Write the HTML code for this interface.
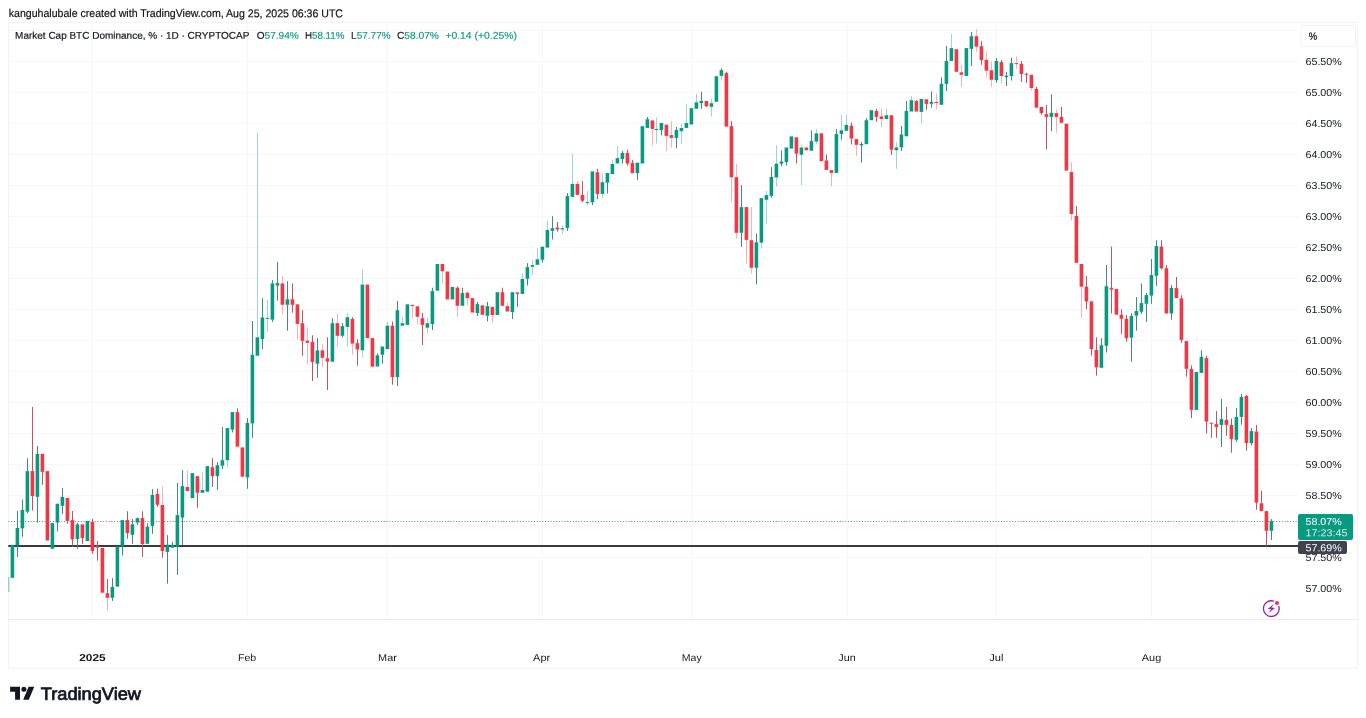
<!DOCTYPE html>
<html><head><meta charset="utf-8"><title>chart</title>
<style>
html,body{margin:0;padding:0;background:#fff;}
body{width:1366px;height:718px;position:relative;overflow:hidden;font-family:"Liberation Sans",sans-serif;color:#131722;}
.t{position:absolute;white-space:nowrap;line-height:1;transform-origin:0 0;}
#tx{position:absolute;left:0;top:0;width:1366px;height:718px;will-change:transform;}
svg{position:absolute;left:0;top:0;}
</style></head><body>
<svg width="1366" height="718" viewBox="0 0 1366 718">
<g stroke="#f6f6f8" stroke-width="1" fill="none">
<line x1="8.5" x2="1298" y1="557.4" y2="557.4"/>
<line x1="8.5" x2="1298" y1="526.4" y2="526.4"/>
<line x1="8.5" x2="1298" y1="495.4" y2="495.4"/>
<line x1="8.5" x2="1298" y1="464.4" y2="464.4"/>
<line x1="8.5" x2="1298" y1="433.4" y2="433.4"/>
<line x1="8.5" x2="1298" y1="402.4" y2="402.4"/>
<line x1="8.5" x2="1298" y1="371.4" y2="371.4"/>
<line x1="8.5" x2="1298" y1="340.4" y2="340.4"/>
<line x1="8.5" x2="1298" y1="309.4" y2="309.4"/>
<line x1="8.5" x2="1298" y1="278.4" y2="278.4"/>
<line x1="8.5" x2="1298" y1="247.4" y2="247.4"/>
<line x1="8.5" x2="1298" y1="216.4" y2="216.4"/>
<line x1="8.5" x2="1298" y1="185.4" y2="185.4"/>
<line x1="8.5" x2="1298" y1="154.4" y2="154.4"/>
<line x1="8.5" x2="1298" y1="123.4" y2="123.4"/>
<line x1="8.5" x2="1298" y1="92.4" y2="92.4"/>
<line x1="8.5" x2="1298" y1="61.4" y2="61.4"/>
<line x1="8.5" x2="1298" y1="30.4" y2="30.4"/>
<line x1="92.5" x2="92.5" y1="22.5" y2="619.3"/>
<line x1="247.3" x2="247.3" y1="22.5" y2="619.3"/>
<line x1="387.3" x2="387.3" y1="22.5" y2="619.3"/>
<line x1="542.4" x2="542.4" y1="22.5" y2="619.3"/>
<line x1="691.8" x2="691.8" y1="22.5" y2="619.3"/>
<line x1="847.3" x2="847.3" y1="22.5" y2="619.3"/>
<line x1="996.6" x2="996.6" y1="22.5" y2="619.3"/>
<line x1="1151.5" x2="1151.5" y1="22.5" y2="619.3"/>
</g>
<g stroke="#f2f2f3" stroke-width="1" fill="none">
<rect x="8.5" y="22.4" width="1349.1" height="645.8"/>
<line x1="8.3" x2="1357.6" y1="619.5" y2="619.5" stroke="#ececee"/>
</g>
<line x1="8.5" x2="1298" y1="521.5" y2="521.5" stroke="#2f7a6c" stroke-width="1.1" stroke-dasharray="1 1.78" opacity="0.85"/>
<rect x="8.3" y="545.0" width="1290" height="2.0" fill="#363a45"/>
<g shape-rendering="auto">
<rect x="8.3" y="577" width="1.1" height="15" fill="#089981" opacity="0.55"/>
<rect x="10.60" y="544.8" width="3.6" height="33.0" fill="#089981"/>
<rect x="17.00" y="511.2" width="1" height="17.0" fill="#3f8c7e"/><rect x="17.00" y="545.0" width="1" height="11.9" fill="#3f8c7e"/><rect x="15.60" y="528.0" width="3.6" height="17.2" fill="#089981"/>
<rect x="22.00" y="499.5" width="1" height="10.7" fill="#3f8c7e"/><rect x="22.00" y="528.2" width="1" height="8.6" fill="#3f8c7e"/><rect x="20.60" y="510.0" width="3.6" height="18.4" fill="#089981"/>
<rect x="27.00" y="458.2" width="1" height="13.1" fill="#3f8c7e"/><rect x="27.00" y="511.5" width="1" height="1.9" fill="#3f8c7e"/><rect x="25.60" y="471.1" width="3.6" height="40.6" fill="#089981"/>
<rect x="32.00" y="407.0" width="1" height="64.3" fill="#bb5560"/><rect x="32.00" y="495.9" width="1" height="14.7" fill="#bb5560"/><rect x="30.60" y="471.1" width="3.6" height="25.0" fill="#f23645"/>
<rect x="37.00" y="446.0" width="1" height="8.1" fill="#3f8c7e"/><rect x="37.00" y="496.6" width="1" height="26.0" fill="#3f8c7e"/><rect x="35.60" y="453.9" width="3.6" height="42.9" fill="#089981"/>
<rect x="42.00" y="471.7" width="1" height="13.1" fill="#bb5560"/><rect x="40.60" y="453.9" width="3.6" height="18.0" fill="#f23645"/>
<rect x="45.60" y="471.1" width="3.6" height="69.4" fill="#f23645"/>
<rect x="50.60" y="523.1" width="3.6" height="25.7" fill="#089981"/>
<rect x="57.00" y="522.4" width="1" height="9.1" fill="#3f8c7e"/><rect x="55.60" y="503.7" width="3.6" height="18.9" fill="#089981"/>
<rect x="62.00" y="488.1" width="1" height="9.1" fill="#3f8c7e"/><rect x="62.00" y="505.6" width="1" height="8.6" fill="#3f8c7e"/><rect x="60.60" y="497.0" width="3.6" height="8.8" fill="#089981"/>
<rect x="67.00" y="520.7" width="1" height="3.1" fill="#bb5560"/><rect x="65.60" y="498.0" width="3.6" height="22.9" fill="#f23645"/>
<rect x="72.00" y="511.0" width="1" height="9.3" fill="#bb5560"/><rect x="72.00" y="539.1" width="1" height="7.4" fill="#bb5560"/><rect x="70.60" y="520.1" width="3.6" height="19.2" fill="#f23645"/>
<rect x="77.00" y="522.6" width="1" height="1.9" fill="#3f8c7e"/><rect x="77.00" y="538.8" width="1" height="10.0" fill="#3f8c7e"/><rect x="75.60" y="524.3" width="3.6" height="14.7" fill="#089981"/>
<rect x="82.00" y="537.9" width="1" height="5.9" fill="#bb5560"/><rect x="80.60" y="524.3" width="3.6" height="13.8" fill="#f23645"/>
<rect x="85.60" y="520.9" width="3.6" height="20.1" fill="#089981"/>
<rect x="92.00" y="518.9" width="1" height="3.1" fill="#bb5560"/><rect x="92.00" y="550.8" width="1" height="3.1" fill="#bb5560"/><rect x="90.60" y="521.8" width="3.6" height="29.2" fill="#f23645"/>
<rect x="97.00" y="541.0" width="1" height="4.9" fill="#bb5560"/><rect x="97.00" y="547.5" width="1" height="13.2" fill="#bb5560"/><rect x="95.60" y="545.7" width="3.6" height="2.0" fill="#f23645"/>
<rect x="100.60" y="548.0" width="3.6" height="44.7" fill="#f23645"/>
<rect x="107.00" y="579.1" width="1" height="14.3" fill="#bb5560"/><rect x="107.00" y="597.6" width="1" height="13.1" fill="#f23645" opacity="0.4"/><rect x="105.60" y="593.2" width="3.6" height="4.6" fill="#f23645"/>
<rect x="112.00" y="578.1" width="1" height="9.1" fill="#3f8c7e"/><rect x="112.00" y="597.6" width="1" height="3.3" fill="#3f8c7e"/><rect x="110.60" y="587.0" width="3.6" height="10.8" fill="#089981"/>
<rect x="115.60" y="546.3" width="3.6" height="40.3" fill="#089981"/>
<rect x="122.00" y="546.1" width="1" height="9.4" fill="#3f8c7e"/><rect x="120.60" y="520.1" width="3.6" height="26.2" fill="#089981"/>
<rect x="127.00" y="511.2" width="1" height="9.1" fill="#bb5560"/><rect x="127.00" y="532.9" width="1" height="5.9" fill="#bb5560"/><rect x="125.60" y="520.1" width="3.6" height="13.0" fill="#f23645"/>
<rect x="132.00" y="518.9" width="1" height="5.6" fill="#3f8c7e"/><rect x="132.00" y="534.6" width="1" height="9.2" fill="#3f8c7e"/><rect x="130.60" y="524.3" width="3.6" height="10.5" fill="#089981"/>
<rect x="137.00" y="517.6" width="1" height="0.7" fill="#3f8c7e"/><rect x="137.00" y="522.4" width="1" height="2.7" fill="#3f8c7e"/><rect x="135.60" y="518.1" width="3.6" height="4.5" fill="#089981"/>
<rect x="142.00" y="511.2" width="1" height="7.1" fill="#bb5560"/><rect x="142.00" y="543.8" width="1" height="13.1" fill="#bb5560"/><rect x="140.60" y="518.1" width="3.6" height="25.9" fill="#f23645"/>
<rect x="147.00" y="523.1" width="1" height="3.9" fill="#3f8c7e"/><rect x="145.60" y="526.8" width="3.6" height="17.0" fill="#089981"/>
<rect x="152.00" y="489.1" width="1" height="6.1" fill="#3f8c7e"/><rect x="152.00" y="525.7" width="1" height="8.1" fill="#3f8c7e"/><rect x="150.60" y="495.0" width="3.6" height="30.9" fill="#089981"/>
<rect x="157.00" y="488.6" width="1" height="5.6" fill="#bb5560"/><rect x="157.00" y="504.6" width="1" height="2.1" fill="#bb5560"/><rect x="155.60" y="494.0" width="3.6" height="10.8" fill="#f23645"/>
<rect x="162.00" y="486.1" width="1" height="19.1" fill="#f23645" opacity="0.4"/><rect x="162.00" y="550.8" width="1" height="6.9" fill="#bb5560"/><rect x="160.60" y="505.0" width="3.6" height="46.0" fill="#f23645"/>
<rect x="167.00" y="535.1" width="1" height="9.8" fill="#3f8c7e"/><rect x="167.00" y="551.7" width="1" height="31.9" fill="#3f8c7e"/><rect x="165.60" y="544.7" width="3.6" height="7.2" fill="#089981"/>
<rect x="172.00" y="541.8" width="1" height="3.1" fill="#3f8c7e"/><rect x="170.60" y="544.7" width="3.6" height="3.0" fill="#089981"/>
<rect x="177.00" y="483.1" width="1" height="32.2" fill="#3f8c7e"/><rect x="177.00" y="546.3" width="1" height="28.6" fill="#3f8c7e"/><rect x="175.60" y="515.1" width="3.6" height="31.4" fill="#089981"/>
<rect x="182.00" y="470.3" width="1" height="16.0" fill="#3f8c7e"/><rect x="182.00" y="517.4" width="1" height="27.8" fill="#3f8c7e"/><rect x="180.60" y="486.1" width="3.6" height="31.5" fill="#089981"/>
<rect x="187.00" y="470.3" width="1" height="16.9" fill="#f23645" opacity="0.4"/><rect x="185.60" y="487.0" width="3.6" height="4.0" fill="#f23645"/>
<rect x="190.60" y="473.1" width="3.6" height="25.0" fill="#089981"/>
<rect x="197.00" y="492.6" width="1" height="15.1" fill="#bb5560"/><rect x="195.60" y="476.1" width="3.6" height="16.7" fill="#f23645"/>
<rect x="202.00" y="472.3" width="1" height="17.9" fill="#089981" opacity="0.4"/><rect x="200.60" y="490.0" width="3.6" height="2.8" fill="#089981"/>
<rect x="205.60" y="466.1" width="3.6" height="25.6" fill="#089981"/>
<rect x="212.00" y="458.2" width="1" height="9.2" fill="#bb5560"/><rect x="212.00" y="475.9" width="1" height="11.1" fill="#bb5560"/><rect x="210.60" y="467.2" width="3.6" height="8.9" fill="#f23645"/>
<rect x="217.00" y="462.2" width="1" height="3.2" fill="#3f8c7e"/><rect x="217.00" y="475.9" width="1" height="13.9" fill="#3f8c7e"/><rect x="215.60" y="465.2" width="3.6" height="10.9" fill="#089981"/>
<rect x="222.00" y="427.1" width="1" height="33.3" fill="#3f8c7e"/><rect x="222.00" y="465.5" width="1" height="3.6" fill="#3f8c7e"/><rect x="220.60" y="460.2" width="3.6" height="5.5" fill="#089981"/>
<rect x="227.00" y="460.0" width="1" height="7.0" fill="#089981" opacity="0.4"/><rect x="225.60" y="428.1" width="3.6" height="32.1" fill="#089981"/>
<rect x="232.00" y="429.5" width="1" height="2.9" fill="#3f8c7e"/><rect x="230.60" y="412.1" width="3.6" height="17.6" fill="#089981"/>
<rect x="237.00" y="408.4" width="1" height="3.9" fill="#bb5560"/><rect x="235.60" y="412.1" width="3.6" height="34.5" fill="#f23645"/>
<rect x="240.60" y="447.4" width="3.6" height="29.3" fill="#f23645"/>
<rect x="247.00" y="418.1" width="1" height="5.1" fill="#3f8c7e"/><rect x="247.00" y="477.3" width="1" height="11.4" fill="#3f8c7e"/><rect x="245.60" y="423.0" width="3.6" height="54.5" fill="#089981"/>
<rect x="252.00" y="321.0" width="1" height="34.0" fill="#3f8c7e"/><rect x="252.00" y="423.3" width="1" height="14.4" fill="#3f8c7e"/><rect x="250.60" y="354.8" width="3.6" height="68.7" fill="#089981"/>
<rect x="257.00" y="132.9" width="1" height="204.6" fill="#089981" opacity="0.4"/><rect x="255.60" y="337.3" width="3.6" height="18.4" fill="#089981"/>
<rect x="262.00" y="298.1" width="1" height="19.5" fill="#3f8c7e"/><rect x="262.00" y="338.9" width="1" height="10.2" fill="#3f8c7e"/><rect x="260.60" y="317.4" width="3.6" height="21.7" fill="#089981"/>
<rect x="267.00" y="300.1" width="1" height="18.0" fill="#089981" opacity="0.4"/><rect x="267.00" y="318.7" width="1" height="13.2" fill="#089981" opacity="0.4"/><rect x="265.60" y="317.9" width="3.6" height="1.0" fill="#089981"/>
<rect x="272.00" y="280.1" width="1" height="3.5" fill="#3f8c7e"/><rect x="272.00" y="319.5" width="1" height="2.4" fill="#3f8c7e"/><rect x="270.60" y="283.4" width="3.6" height="36.3" fill="#089981"/>
<rect x="277.00" y="261.7" width="1" height="21.6" fill="#3f8c7e"/><rect x="277.00" y="285.4" width="1" height="15.2" fill="#3f8c7e"/><rect x="275.60" y="283.1" width="3.6" height="2.5" fill="#089981"/>
<rect x="282.00" y="276.2" width="1" height="7.4" fill="#f23645" opacity="0.4"/><rect x="282.00" y="304.6" width="1" height="9.7" fill="#f23645" opacity="0.4"/><rect x="280.60" y="283.4" width="3.6" height="21.4" fill="#f23645"/>
<rect x="287.00" y="281.2" width="1" height="18.3" fill="#3f8c7e"/><rect x="287.00" y="304.6" width="1" height="26.1" fill="#3f8c7e"/><rect x="285.60" y="299.3" width="3.6" height="5.5" fill="#089981"/>
<rect x="292.00" y="283.4" width="1" height="16.1" fill="#bb5560"/><rect x="292.00" y="304.6" width="1" height="8.1" fill="#bb5560"/><rect x="290.60" y="299.3" width="3.6" height="5.5" fill="#f23645"/>
<rect x="297.00" y="323.7" width="1" height="16.2" fill="#f23645" opacity="0.4"/><rect x="295.60" y="304.3" width="3.6" height="19.6" fill="#f23645"/>
<rect x="302.00" y="310.2" width="1" height="13.2" fill="#bb5560"/><rect x="302.00" y="340.6" width="1" height="15.2" fill="#bb5560"/><rect x="300.60" y="323.2" width="3.6" height="17.6" fill="#f23645"/>
<rect x="307.00" y="327.4" width="1" height="13.6" fill="#f23645" opacity="0.4"/><rect x="307.00" y="342.6" width="1" height="21.4" fill="#f23645" opacity="0.4"/><rect x="305.60" y="340.8" width="3.6" height="2.0" fill="#f23645"/>
<rect x="312.00" y="335.3" width="1" height="6.8" fill="#bb5560"/><rect x="312.00" y="361.8" width="1" height="19.1" fill="#bb5560"/><rect x="310.60" y="341.9" width="3.6" height="20.1" fill="#f23645"/>
<rect x="317.00" y="338.1" width="1" height="12.4" fill="#3f8c7e"/><rect x="317.00" y="363.5" width="1" height="14.4" fill="#3f8c7e"/><rect x="315.60" y="350.3" width="3.6" height="13.4" fill="#089981"/>
<rect x="322.00" y="344.1" width="1" height="6.4" fill="#f23645" opacity="0.4"/><rect x="322.00" y="357.6" width="1" height="9.8" fill="#f23645" opacity="0.4"/><rect x="320.60" y="350.3" width="3.6" height="7.5" fill="#f23645"/>
<rect x="327.00" y="337.3" width="1" height="21.1" fill="#bb5560"/><rect x="327.00" y="361.5" width="1" height="28.5" fill="#bb5560"/><rect x="325.60" y="358.2" width="3.6" height="3.5" fill="#f23645"/>
<rect x="332.00" y="318.2" width="1" height="5.2" fill="#3f8c7e"/><rect x="330.60" y="323.2" width="3.6" height="38.5" fill="#089981"/>
<rect x="337.00" y="313.8" width="1" height="9.6" fill="#f23645" opacity="0.4"/><rect x="337.00" y="335.6" width="1" height="11.4" fill="#f23645" opacity="0.4"/><rect x="335.60" y="323.2" width="3.6" height="12.6" fill="#f23645"/>
<rect x="342.00" y="323.2" width="1" height="3.1" fill="#3f8c7e"/><rect x="342.00" y="335.6" width="1" height="1.7" fill="#3f8c7e"/><rect x="340.60" y="326.1" width="3.6" height="9.7" fill="#089981"/>
<rect x="347.00" y="313.2" width="1" height="4.2" fill="#089981" opacity="0.4"/><rect x="347.00" y="326.7" width="1" height="19.4" fill="#089981" opacity="0.4"/><rect x="345.60" y="317.2" width="3.6" height="9.7" fill="#089981"/>
<rect x="352.00" y="317.2" width="1" height="2.0" fill="#bb5560"/><rect x="352.00" y="343.4" width="1" height="11.4" fill="#f23645" opacity="0.4"/><rect x="350.60" y="319.0" width="3.6" height="24.6" fill="#f23645"/>
<rect x="357.00" y="339.1" width="1" height="4.2" fill="#bb5560"/><rect x="357.00" y="349.3" width="1" height="16.4" fill="#bb5560"/><rect x="355.60" y="343.1" width="3.6" height="6.4" fill="#f23645"/>
<rect x="362.00" y="269.5" width="1" height="15.3" fill="#089981" opacity="0.4"/><rect x="362.00" y="350.1" width="1" height="7.4" fill="#089981" opacity="0.4"/><rect x="360.60" y="284.6" width="3.6" height="65.7" fill="#089981"/>
<rect x="365.60" y="284.6" width="3.6" height="53.5" fill="#f23645"/>
<rect x="370.60" y="338.1" width="3.6" height="28.6" fill="#f23645"/>
<rect x="377.00" y="353.3" width="1" height="2.2" fill="#3f8c7e"/><rect x="375.60" y="355.3" width="3.6" height="11.2" fill="#089981"/>
<rect x="382.00" y="354.6" width="1" height="9.1" fill="#3f8c7e"/><rect x="380.60" y="346.5" width="3.6" height="8.3" fill="#089981"/>
<rect x="387.00" y="321.9" width="1" height="4.0" fill="#089981" opacity="0.4"/><rect x="385.60" y="325.7" width="3.6" height="23.4" fill="#089981"/>
<rect x="392.00" y="321.5" width="1" height="4.4" fill="#bb5560"/><rect x="392.00" y="376.9" width="1" height="7.8" fill="#bb5560"/><rect x="390.60" y="325.7" width="3.6" height="51.4" fill="#f23645"/>
<rect x="397.00" y="301.0" width="1" height="9.4" fill="#3f8c7e"/><rect x="397.00" y="376.9" width="1" height="9.0" fill="#3f8c7e"/><rect x="395.60" y="310.2" width="3.6" height="66.9" fill="#089981"/>
<rect x="402.00" y="316.9" width="1" height="6.5" fill="#089981" opacity="0.4"/><rect x="400.60" y="323.2" width="3.6" height="2.5" fill="#089981"/>
<rect x="405.60" y="304.3" width="3.6" height="20.6" fill="#089981"/>
<rect x="412.00" y="305.8" width="1" height="11.9" fill="#f23645" opacity="0.4"/><rect x="410.60" y="304.8" width="3.6" height="1.2" fill="#f23645"/>
<rect x="417.00" y="316.6" width="1" height="7.8" fill="#f23645" opacity="0.4"/><rect x="415.60" y="306.3" width="3.6" height="10.5" fill="#f23645"/>
<rect x="422.00" y="313.0" width="1" height="5.4" fill="#bb5560"/><rect x="422.00" y="324.7" width="1" height="20.3" fill="#bb5560"/><rect x="420.60" y="318.2" width="3.6" height="6.7" fill="#f23645"/>
<rect x="427.00" y="317.7" width="1" height="5.7" fill="#089981" opacity="0.4"/><rect x="427.00" y="327.5" width="1" height="6.0" fill="#089981" opacity="0.4"/><rect x="425.60" y="323.2" width="3.6" height="4.5" fill="#089981"/>
<rect x="432.00" y="287.7" width="1" height="3.6" fill="#3f8c7e"/><rect x="432.00" y="323.8" width="1" height="6.2" fill="#3f8c7e"/><rect x="430.60" y="291.1" width="3.6" height="32.9" fill="#089981"/>
<rect x="435.60" y="264.0" width="3.6" height="26.7" fill="#089981"/>
<rect x="442.00" y="271.1" width="1" height="12.4" fill="#f23645" opacity="0.4"/><rect x="440.60" y="264.0" width="3.6" height="7.3" fill="#f23645"/>
<rect x="445.60" y="271.5" width="3.6" height="27.9" fill="#f23645"/>
<rect x="450.60" y="286.9" width="3.6" height="12.5" fill="#089981"/>
<rect x="457.00" y="286.5" width="1" height="1.4" fill="#bb5560"/><rect x="457.00" y="305.6" width="1" height="11.4" fill="#f23645" opacity="0.4"/><rect x="455.60" y="287.7" width="3.6" height="18.1" fill="#f23645"/>
<rect x="462.00" y="287.7" width="1" height="5.6" fill="#3f8c7e"/><rect x="460.60" y="293.1" width="3.6" height="12.7" fill="#089981"/>
<rect x="467.00" y="290.7" width="1" height="2.2" fill="#f23645" opacity="0.4"/><rect x="467.00" y="298.0" width="1" height="7.3" fill="#f23645" opacity="0.4"/><rect x="465.60" y="292.7" width="3.6" height="5.5" fill="#f23645"/>
<rect x="470.60" y="298.1" width="3.6" height="14.4" fill="#f23645"/>
<rect x="477.00" y="301.9" width="1" height="2.4" fill="#3f8c7e"/><rect x="477.00" y="312.9" width="1" height="3.2" fill="#3f8c7e"/><rect x="475.60" y="304.1" width="3.6" height="9.0" fill="#089981"/>
<rect x="480.60" y="305.3" width="3.6" height="9.5" fill="#f23645"/>
<rect x="487.00" y="301.9" width="1" height="4.4" fill="#3f8c7e"/><rect x="487.00" y="315.6" width="1" height="5.9" fill="#3f8c7e"/><rect x="485.60" y="306.1" width="3.6" height="9.7" fill="#089981"/>
<rect x="492.00" y="314.8" width="1" height="8.0" fill="#f23645" opacity="0.4"/><rect x="490.60" y="306.9" width="3.6" height="8.1" fill="#f23645"/>
<rect x="495.60" y="292.2" width="3.6" height="22.8" fill="#089981"/>
<rect x="502.00" y="287.7" width="1" height="4.7" fill="#bb5560"/><rect x="500.60" y="292.2" width="3.6" height="13.6" fill="#f23645"/>
<rect x="507.00" y="302.8" width="1" height="3.5" fill="#f23645" opacity="0.4"/><rect x="505.60" y="306.1" width="3.6" height="5.4" fill="#f23645"/>
<rect x="512.00" y="311.8" width="1" height="7.2" fill="#3f8c7e"/><rect x="510.60" y="292.2" width="3.6" height="19.8" fill="#089981"/>
<rect x="517.00" y="293.7" width="1" height="13.2" fill="#bb5560"/><rect x="515.60" y="292.4" width="3.6" height="1.5" fill="#f23645"/>
<rect x="522.00" y="273.5" width="1" height="5.7" fill="#089981" opacity="0.4"/><rect x="520.60" y="279.0" width="3.6" height="14.9" fill="#089981"/>
<rect x="527.00" y="263.1" width="1" height="4.2" fill="#3f8c7e"/><rect x="527.00" y="278.6" width="1" height="6.9" fill="#3f8c7e"/><rect x="525.60" y="267.1" width="3.6" height="11.7" fill="#089981"/>
<rect x="532.00" y="260.1" width="1" height="5.2" fill="#089981" opacity="0.4"/><rect x="532.00" y="266.6" width="1" height="8.6" fill="#089981" opacity="0.4"/><rect x="530.60" y="265.1" width="3.6" height="1.7" fill="#089981"/>
<rect x="537.00" y="248.4" width="1" height="11.1" fill="#089981" opacity="0.4"/><rect x="535.60" y="259.3" width="3.6" height="5.5" fill="#089981"/>
<rect x="542.00" y="259.6" width="1" height="3.0" fill="#3f8c7e"/><rect x="540.60" y="246.7" width="3.6" height="13.1" fill="#089981"/>
<rect x="547.00" y="220.4" width="1" height="9.8" fill="#089981" opacity="0.4"/><rect x="545.60" y="230.0" width="3.6" height="17.6" fill="#089981"/>
<rect x="552.00" y="216.2" width="1" height="12.2" fill="#3f8c7e"/><rect x="552.00" y="230.7" width="1" height="8.8" fill="#3f8c7e"/><rect x="550.60" y="228.2" width="3.6" height="2.7" fill="#089981"/>
<rect x="557.00" y="222.0" width="1" height="5.7" fill="#bb5560"/><rect x="557.00" y="229.3" width="1" height="2.4" fill="#bb5560"/><rect x="555.60" y="227.5" width="3.6" height="2.0" fill="#f23645"/>
<rect x="562.00" y="225.4" width="1" height="3.0" fill="#089981" opacity="0.4"/><rect x="562.00" y="229.3" width="1" height="4.9" fill="#089981" opacity="0.4"/><rect x="560.60" y="228.2" width="3.6" height="1.3" fill="#089981"/>
<rect x="567.00" y="193.1" width="1" height="3.2" fill="#3f8c7e"/><rect x="567.00" y="227.7" width="1" height="3.2" fill="#3f8c7e"/><rect x="565.60" y="196.1" width="3.6" height="31.8" fill="#089981"/>
<rect x="572.00" y="154.0" width="1" height="30.1" fill="#089981" opacity="0.4"/><rect x="570.60" y="183.9" width="3.6" height="13.0" fill="#089981"/>
<rect x="577.00" y="181.1" width="1" height="3.0" fill="#f23645" opacity="0.4"/><rect x="575.60" y="183.9" width="3.6" height="11.0" fill="#f23645"/>
<rect x="582.00" y="181.1" width="1" height="14.0" fill="#bb5560"/><rect x="582.00" y="200.6" width="1" height="1.4" fill="#bb5560"/><rect x="580.60" y="194.9" width="3.6" height="5.9" fill="#f23645"/>
<rect x="587.00" y="191.1" width="1" height="11.1" fill="#089981" opacity="0.4"/><rect x="587.00" y="202.6" width="1" height="3.0" fill="#089981" opacity="0.4"/><rect x="585.60" y="202.0" width="3.6" height="1.0" fill="#089981"/>
<rect x="592.00" y="202.1" width="1" height="2.9" fill="#3f8c7e"/><rect x="590.60" y="171.4" width="3.6" height="30.9" fill="#089981"/>
<rect x="597.00" y="168.8" width="1" height="3.6" fill="#bb5560"/><rect x="597.00" y="193.7" width="1" height="5.4" fill="#bb5560"/><rect x="595.60" y="172.2" width="3.6" height="21.7" fill="#f23645"/>
<rect x="602.00" y="173.5" width="1" height="8.9" fill="#089981" opacity="0.4"/><rect x="602.00" y="193.7" width="1" height="4.4" fill="#089981" opacity="0.4"/><rect x="600.60" y="182.2" width="3.6" height="11.7" fill="#089981"/>
<rect x="607.00" y="182.5" width="1" height="11.1" fill="#3f8c7e"/><rect x="605.60" y="173.0" width="3.6" height="9.7" fill="#089981"/>
<rect x="612.00" y="159.8" width="1" height="4.4" fill="#089981" opacity="0.4"/><rect x="610.60" y="164.0" width="3.6" height="10.0" fill="#089981"/>
<rect x="617.00" y="145.9" width="1" height="12.4" fill="#089981" opacity="0.4"/><rect x="615.60" y="158.1" width="3.6" height="5.4" fill="#089981"/>
<rect x="622.00" y="151.0" width="1" height="2.2" fill="#3f8c7e"/><rect x="622.00" y="158.8" width="1" height="4.7" fill="#3f8c7e"/><rect x="620.60" y="153.0" width="3.6" height="6.0" fill="#089981"/>
<rect x="627.00" y="149.6" width="1" height="3.6" fill="#bb5560"/><rect x="627.00" y="163.3" width="1" height="2.4" fill="#bb5560"/><rect x="625.60" y="153.0" width="3.6" height="10.5" fill="#f23645"/>
<rect x="632.00" y="159.8" width="1" height="3.4" fill="#bb5560"/><rect x="630.60" y="163.0" width="3.6" height="10.2" fill="#f23645"/>
<rect x="637.00" y="172.8" width="1" height="7.1" fill="#3f8c7e"/><rect x="635.60" y="162.7" width="3.6" height="10.3" fill="#089981"/>
<rect x="640.60" y="126.2" width="3.6" height="37.3" fill="#089981"/>
<rect x="647.00" y="117.0" width="1" height="2.4" fill="#3f8c7e"/><rect x="645.60" y="119.2" width="3.6" height="8.7" fill="#089981"/>
<rect x="652.00" y="128.7" width="1" height="17.2" fill="#f23645" opacity="0.4"/><rect x="650.60" y="120.4" width="3.6" height="8.5" fill="#f23645"/>
<rect x="656.00" y="117.5" width="1" height="11.6" fill="#089981" opacity="0.4"/><rect x="656.00" y="129.8" width="1" height="13.6" fill="#089981" opacity="0.4"/><rect x="654.60" y="128.9" width="3.6" height="1.1" fill="#089981"/>
<rect x="661.00" y="129.8" width="1" height="5.6" fill="#3f8c7e"/><rect x="659.60" y="123.0" width="3.6" height="7.0" fill="#089981"/>
<rect x="666.00" y="135.7" width="1" height="15.3" fill="#f23645" opacity="0.4"/><rect x="664.60" y="124.7" width="3.6" height="11.2" fill="#f23645"/>
<rect x="671.00" y="121.2" width="1" height="14.1" fill="#f23645" opacity="0.4"/><rect x="671.00" y="137.7" width="1" height="9.9" fill="#f23645" opacity="0.4"/><rect x="669.60" y="135.1" width="3.6" height="2.8" fill="#f23645"/>
<rect x="676.00" y="127.0" width="1" height="3.2" fill="#3f8c7e"/><rect x="676.00" y="137.7" width="1" height="10.7" fill="#3f8c7e"/><rect x="674.60" y="130.0" width="3.6" height="7.9" fill="#089981"/>
<rect x="681.00" y="123.9" width="1" height="4.3" fill="#089981" opacity="0.4"/><rect x="681.00" y="131.0" width="1" height="12.8" fill="#089981" opacity="0.4"/><rect x="679.60" y="128.0" width="3.6" height="3.2" fill="#089981"/>
<rect x="686.00" y="104.3" width="1" height="18.9" fill="#089981" opacity="0.4"/><rect x="684.60" y="123.0" width="3.6" height="4.9" fill="#089981"/>
<rect x="689.60" y="108.2" width="3.6" height="16.3" fill="#089981"/>
<rect x="696.00" y="94.0" width="1" height="8.5" fill="#089981" opacity="0.4"/><rect x="694.60" y="102.3" width="3.6" height="6.5" fill="#089981"/>
<rect x="701.00" y="91.8" width="1" height="9.4" fill="#3f8c7e"/><rect x="701.00" y="102.8" width="1" height="6.0" fill="#3f8c7e"/><rect x="699.60" y="101.0" width="3.6" height="2.0" fill="#089981"/>
<rect x="706.00" y="106.1" width="1" height="0.9" fill="#bb5560"/><rect x="704.60" y="101.0" width="3.6" height="5.3" fill="#f23645"/>
<rect x="711.00" y="98.8" width="1" height="4.6" fill="#089981" opacity="0.4"/><rect x="711.00" y="106.6" width="1" height="9.9" fill="#089981" opacity="0.4"/><rect x="709.60" y="103.2" width="3.6" height="3.6" fill="#089981"/>
<rect x="714.60" y="76.2" width="3.6" height="25.6" fill="#089981"/>
<rect x="721.00" y="68.4" width="1" height="1.9" fill="#3f8c7e"/><rect x="721.00" y="75.7" width="1" height="4.9" fill="#089981" opacity="0.4"/><rect x="719.60" y="70.1" width="3.6" height="5.8" fill="#089981"/>
<rect x="726.00" y="71.7" width="1" height="1.6" fill="#bb5560"/><rect x="724.60" y="73.1" width="3.6" height="53.5" fill="#f23645"/>
<rect x="731.00" y="121.1" width="1" height="5.2" fill="#bb5560"/><rect x="731.00" y="177.0" width="1" height="24.9" fill="#f23645" opacity="0.4"/><rect x="729.60" y="126.1" width="3.6" height="51.1" fill="#f23645"/>
<rect x="736.00" y="163.8" width="1" height="13.6" fill="#f23645" opacity="0.4"/><rect x="736.00" y="232.6" width="1" height="6.0" fill="#f23645" opacity="0.4"/><rect x="734.60" y="177.2" width="3.6" height="55.6" fill="#f23645"/>
<rect x="741.00" y="185.1" width="1" height="22.2" fill="#3f8c7e"/><rect x="741.00" y="232.6" width="1" height="14.3" fill="#3f8c7e"/><rect x="739.60" y="207.1" width="3.6" height="25.7" fill="#089981"/>
<rect x="746.00" y="239.7" width="1" height="23.9" fill="#f23645" opacity="0.4"/><rect x="744.60" y="207.1" width="3.6" height="32.8" fill="#f23645"/>
<rect x="751.00" y="207.1" width="1" height="33.3" fill="#f23645" opacity="0.4"/><rect x="751.00" y="267.6" width="1" height="6.1" fill="#f23645" opacity="0.4"/><rect x="749.60" y="240.2" width="3.6" height="27.6" fill="#f23645"/>
<rect x="756.00" y="233.5" width="1" height="8.9" fill="#3f8c7e"/><rect x="756.00" y="267.6" width="1" height="16.9" fill="#3f8c7e"/><rect x="754.60" y="242.2" width="3.6" height="25.6" fill="#089981"/>
<rect x="761.00" y="242.5" width="1" height="6.1" fill="#089981" opacity="0.4"/><rect x="759.60" y="198.1" width="3.6" height="44.6" fill="#089981"/>
<rect x="766.00" y="190.9" width="1" height="4.4" fill="#089981" opacity="0.4"/><rect x="766.00" y="199.6" width="1" height="24.7" fill="#089981" opacity="0.4"/><rect x="764.60" y="195.1" width="3.6" height="4.7" fill="#089981"/>
<rect x="771.00" y="167.0" width="1" height="10.2" fill="#3f8c7e"/><rect x="771.00" y="195.7" width="1" height="1.9" fill="#3f8c7e"/><rect x="769.60" y="177.0" width="3.6" height="18.9" fill="#089981"/>
<rect x="776.00" y="145.3" width="1" height="18.6" fill="#089981" opacity="0.4"/><rect x="776.00" y="177.3" width="1" height="9.4" fill="#089981" opacity="0.4"/><rect x="774.60" y="163.7" width="3.6" height="13.8" fill="#089981"/>
<rect x="781.00" y="150.3" width="1" height="11.4" fill="#3f8c7e"/><rect x="781.00" y="163.5" width="1" height="2.7" fill="#3f8c7e"/><rect x="779.60" y="161.5" width="3.6" height="2.2" fill="#089981"/>
<rect x="786.00" y="161.8" width="1" height="3.6" fill="#3f8c7e"/><rect x="784.60" y="147.5" width="3.6" height="14.5" fill="#089981"/>
<rect x="789.60" y="136.4" width="3.6" height="12.2" fill="#089981"/>
<rect x="796.00" y="153.5" width="1" height="9.9" fill="#bb5560"/><rect x="794.60" y="137.3" width="3.6" height="16.4" fill="#f23645"/>
<rect x="801.00" y="144.5" width="1" height="3.2" fill="#089981" opacity="0.4"/><rect x="801.00" y="154.6" width="1" height="30.5" fill="#089981" opacity="0.4"/><rect x="799.60" y="147.5" width="3.6" height="7.3" fill="#089981"/>
<rect x="804.60" y="147.5" width="3.6" height="2.8" fill="#f23645"/>
<rect x="811.00" y="130.3" width="1" height="11.0" fill="#3f8c7e"/><rect x="809.60" y="141.1" width="3.6" height="9.6" fill="#089981"/>
<rect x="816.00" y="129.1" width="1" height="4.4" fill="#089981" opacity="0.4"/><rect x="816.00" y="141.4" width="1" height="3.1" fill="#089981" opacity="0.4"/><rect x="814.60" y="133.3" width="3.6" height="8.3" fill="#089981"/>
<rect x="819.60" y="133.3" width="3.6" height="27.9" fill="#f23645"/>
<rect x="826.00" y="154.5" width="1" height="6.1" fill="#bb5560"/><rect x="824.60" y="160.4" width="3.6" height="9.5" fill="#f23645"/>
<rect x="831.00" y="172.7" width="1" height="13.5" fill="#f23645" opacity="0.4"/><rect x="829.60" y="170.1" width="3.6" height="2.8" fill="#f23645"/>
<rect x="836.00" y="129.1" width="1" height="5.2" fill="#3f8c7e"/><rect x="834.60" y="134.1" width="3.6" height="38.8" fill="#089981"/>
<rect x="841.00" y="114.9" width="1" height="15.6" fill="#089981" opacity="0.4"/><rect x="841.00" y="133.7" width="1" height="6.1" fill="#3f8c7e"/><rect x="839.60" y="130.3" width="3.6" height="3.6" fill="#089981"/>
<rect x="846.00" y="114.4" width="1" height="10.7" fill="#089981" opacity="0.4"/><rect x="844.60" y="124.9" width="3.6" height="5.9" fill="#089981"/>
<rect x="851.00" y="122.4" width="1" height="3.5" fill="#bb5560"/><rect x="851.00" y="138.4" width="1" height="6.1" fill="#bb5560"/><rect x="849.60" y="125.7" width="3.6" height="12.9" fill="#f23645"/>
<rect x="856.00" y="144.6" width="1" height="11.2" fill="#f23645" opacity="0.4"/><rect x="854.60" y="139.1" width="3.6" height="5.7" fill="#f23645"/>
<rect x="861.00" y="142.0" width="1" height="2.2" fill="#3f8c7e"/><rect x="861.00" y="145.1" width="1" height="17.5" fill="#3f8c7e"/><rect x="859.60" y="144.0" width="3.6" height="1.3" fill="#089981"/>
<rect x="866.00" y="118.2" width="1" height="2.2" fill="#3f8c7e"/><rect x="864.60" y="120.2" width="3.6" height="24.0" fill="#089981"/>
<rect x="869.60" y="110.2" width="3.6" height="10.0" fill="#089981"/>
<rect x="876.00" y="108.9" width="1" height="2.3" fill="#bb5560"/><rect x="876.00" y="116.7" width="1" height="5.2" fill="#bb5560"/><rect x="874.60" y="111.0" width="3.6" height="5.9" fill="#f23645"/>
<rect x="881.00" y="108.5" width="1" height="8.1" fill="#f23645" opacity="0.4"/><rect x="881.00" y="118.8" width="1" height="8.0" fill="#f23645" opacity="0.4"/><rect x="879.60" y="116.4" width="3.6" height="2.6" fill="#f23645"/>
<rect x="886.00" y="108.4" width="1" height="7.0" fill="#089981" opacity="0.4"/><rect x="884.60" y="115.2" width="3.6" height="3.8" fill="#089981"/>
<rect x="891.00" y="149.5" width="1" height="5.4" fill="#bb5560"/><rect x="889.60" y="115.2" width="3.6" height="34.5" fill="#f23645"/>
<rect x="896.00" y="142.3" width="1" height="5.3" fill="#089981" opacity="0.4"/><rect x="896.00" y="150.0" width="1" height="18.9" fill="#089981" opacity="0.4"/><rect x="894.60" y="147.4" width="3.6" height="2.8" fill="#089981"/>
<rect x="901.00" y="126.0" width="1" height="8.6" fill="#3f8c7e"/><rect x="901.00" y="147.2" width="1" height="3.8" fill="#3f8c7e"/><rect x="899.60" y="134.4" width="3.6" height="13.0" fill="#089981"/>
<rect x="906.00" y="101.0" width="1" height="10.2" fill="#3f8c7e"/><rect x="904.60" y="111.0" width="3.6" height="25.3" fill="#089981"/>
<rect x="911.00" y="96.0" width="1" height="4.4" fill="#089981" opacity="0.4"/><rect x="909.60" y="100.2" width="3.6" height="11.3" fill="#089981"/>
<rect x="916.00" y="100.0" width="1" height="1.2" fill="#bb5560"/><rect x="914.60" y="101.0" width="3.6" height="10.5" fill="#f23645"/>
<rect x="921.00" y="111.7" width="1" height="11.7" fill="#089981" opacity="0.4"/><rect x="919.60" y="99.0" width="3.6" height="12.9" fill="#089981"/>
<rect x="926.00" y="103.7" width="1" height="6.1" fill="#bb5560"/><rect x="924.60" y="99.3" width="3.6" height="4.6" fill="#f23645"/>
<rect x="931.00" y="91.4" width="1" height="10.6" fill="#3f8c7e"/><rect x="931.00" y="103.6" width="1" height="4.1" fill="#3f8c7e"/><rect x="929.60" y="101.8" width="3.6" height="2.0" fill="#089981"/>
<rect x="936.00" y="93.5" width="1" height="8.7" fill="#f23645" opacity="0.4"/><rect x="936.00" y="102.8" width="1" height="6.5" fill="#f23645" opacity="0.4"/><rect x="934.60" y="102.0" width="3.6" height="1.0" fill="#f23645"/>
<rect x="941.00" y="77.3" width="1" height="6.8" fill="#3f8c7e"/><rect x="939.60" y="83.9" width="3.6" height="20.9" fill="#089981"/>
<rect x="946.00" y="45.9" width="1" height="15.3" fill="#3f8c7e"/><rect x="946.00" y="83.7" width="1" height="7.4" fill="#3f8c7e"/><rect x="944.60" y="61.0" width="3.6" height="22.9" fill="#089981"/>
<rect x="951.00" y="33.7" width="1" height="14.6" fill="#089981" opacity="0.4"/><rect x="949.60" y="48.1" width="3.6" height="12.9" fill="#089981"/>
<rect x="954.60" y="49.2" width="3.6" height="22.6" fill="#f23645"/>
<rect x="961.00" y="65.1" width="1" height="7.4" fill="#f23645" opacity="0.4"/><rect x="961.00" y="74.6" width="1" height="12.3" fill="#f23645" opacity="0.4"/><rect x="959.60" y="72.3" width="3.6" height="2.5" fill="#f23645"/>
<rect x="964.60" y="48.1" width="3.6" height="27.9" fill="#089981"/>
<rect x="971.00" y="32.0" width="1" height="4.4" fill="#3f8c7e"/><rect x="971.00" y="48.7" width="1" height="17.3" fill="#3f8c7e"/><rect x="969.60" y="36.2" width="3.6" height="12.7" fill="#089981"/>
<rect x="976.00" y="29.2" width="1" height="7.2" fill="#f23645" opacity="0.4"/><rect x="976.00" y="46.5" width="1" height="5.3" fill="#f23645" opacity="0.4"/><rect x="974.60" y="36.2" width="3.6" height="10.5" fill="#f23645"/>
<rect x="981.00" y="41.2" width="1" height="5.2" fill="#bb5560"/><rect x="981.00" y="59.9" width="1" height="4.9" fill="#bb5560"/><rect x="979.60" y="46.2" width="3.6" height="13.9" fill="#f23645"/>
<rect x="986.00" y="51.4" width="1" height="8.6" fill="#f23645" opacity="0.4"/><rect x="986.00" y="70.5" width="1" height="7.2" fill="#f23645" opacity="0.4"/><rect x="984.60" y="59.8" width="3.6" height="10.9" fill="#f23645"/>
<rect x="991.00" y="61.5" width="1" height="8.9" fill="#f23645" opacity="0.4"/><rect x="991.00" y="79.6" width="1" height="7.3" fill="#f23645" opacity="0.4"/><rect x="989.60" y="70.2" width="3.6" height="9.6" fill="#f23645"/>
<rect x="996.00" y="58.1" width="1" height="3.1" fill="#3f8c7e"/><rect x="996.00" y="80.0" width="1" height="2.7" fill="#3f8c7e"/><rect x="994.60" y="61.0" width="3.6" height="19.2" fill="#089981"/>
<rect x="1001.00" y="60.1" width="1" height="2.2" fill="#bb5560"/><rect x="1001.00" y="75.8" width="1" height="7.7" fill="#f23645" opacity="0.4"/><rect x="999.60" y="62.1" width="3.6" height="13.9" fill="#f23645"/>
<rect x="1006.00" y="71.8" width="1" height="4.1" fill="#3f8c7e"/><rect x="1006.00" y="77.0" width="1" height="9.0" fill="#3f8c7e"/><rect x="1004.60" y="75.7" width="3.6" height="1.5" fill="#089981"/>
<rect x="1011.00" y="57.6" width="1" height="5.7" fill="#3f8c7e"/><rect x="1011.00" y="75.8" width="1" height="4.7" fill="#3f8c7e"/><rect x="1009.60" y="63.1" width="3.6" height="12.9" fill="#089981"/>
<rect x="1016.00" y="56.4" width="1" height="6.9" fill="#f23645" opacity="0.4"/><rect x="1016.00" y="63.8" width="1" height="5.0" fill="#f23645" opacity="0.4"/><rect x="1014.60" y="63.1" width="3.6" height="1.0" fill="#f23645"/>
<rect x="1021.00" y="61.0" width="1" height="3.0" fill="#bb5560"/><rect x="1021.00" y="73.8" width="1" height="8.1" fill="#bb5560"/><rect x="1019.60" y="63.8" width="3.6" height="10.2" fill="#f23645"/>
<rect x="1026.00" y="72.7" width="1" height="1.3" fill="#bb5560"/><rect x="1026.00" y="74.6" width="1" height="8.4" fill="#bb5560"/><rect x="1024.60" y="73.8" width="3.6" height="1.0" fill="#f23645"/>
<rect x="1031.00" y="87.8" width="1" height="2.9" fill="#f23645" opacity="0.4"/><rect x="1029.60" y="74.8" width="3.6" height="13.2" fill="#f23645"/>
<rect x="1036.00" y="86.9" width="1" height="2.2" fill="#bb5560"/><rect x="1034.60" y="88.9" width="3.6" height="18.8" fill="#f23645"/>
<rect x="1041.00" y="112.8" width="1" height="1.9" fill="#bb5560"/><rect x="1039.60" y="107.0" width="3.6" height="6.0" fill="#f23645"/>
<rect x="1046.00" y="105.0" width="1" height="9.3" fill="#bb5560"/><rect x="1046.00" y="116.7" width="1" height="32.7" fill="#bb5560"/><rect x="1044.60" y="114.1" width="3.6" height="2.8" fill="#f23645"/>
<rect x="1051.00" y="94.3" width="1" height="18.7" fill="#3f8c7e"/><rect x="1051.00" y="116.7" width="1" height="14.4" fill="#3f8c7e"/><rect x="1049.60" y="112.8" width="3.6" height="4.1" fill="#089981"/>
<rect x="1056.00" y="109.5" width="1" height="3.8" fill="#f23645" opacity="0.4"/><rect x="1056.00" y="116.7" width="1" height="16.0" fill="#f23645" opacity="0.4"/><rect x="1054.60" y="113.1" width="3.6" height="3.8" fill="#f23645"/>
<rect x="1061.00" y="107.0" width="1" height="10.2" fill="#bb5560"/><rect x="1059.60" y="117.0" width="3.6" height="5.8" fill="#f23645"/>
<rect x="1064.60" y="123.7" width="3.6" height="46.9" fill="#f23645"/>
<rect x="1071.00" y="162.4" width="1" height="9.8" fill="#f23645" opacity="0.4"/><rect x="1071.00" y="213.8" width="1" height="6.7" fill="#f23645" opacity="0.4"/><rect x="1069.60" y="172.0" width="3.6" height="42.0" fill="#f23645"/>
<rect x="1076.00" y="206.0" width="1" height="10.2" fill="#bb5560"/><rect x="1074.60" y="216.0" width="3.6" height="46.8" fill="#f23645"/>
<rect x="1081.00" y="286.5" width="1" height="31.2" fill="#f23645" opacity="0.4"/><rect x="1079.60" y="264.0" width="3.6" height="22.7" fill="#f23645"/>
<rect x="1086.00" y="275.9" width="1" height="11.0" fill="#bb5560"/><rect x="1086.00" y="301.3" width="1" height="8.0" fill="#bb5560"/><rect x="1084.60" y="286.7" width="3.6" height="14.8" fill="#f23645"/>
<rect x="1091.00" y="348.8" width="1" height="6.9" fill="#bb5560"/><rect x="1089.60" y="301.3" width="3.6" height="47.7" fill="#f23645"/>
<rect x="1096.00" y="337.4" width="1" height="12.8" fill="#bb5560"/><rect x="1096.00" y="367.2" width="1" height="8.4" fill="#bb5560"/><rect x="1094.60" y="350.0" width="3.6" height="17.4" fill="#f23645"/>
<rect x="1101.00" y="338.2" width="1" height="7.2" fill="#3f8c7e"/><rect x="1099.60" y="345.2" width="3.6" height="22.6" fill="#089981"/>
<rect x="1106.00" y="265.0" width="1" height="21.4" fill="#3f8c7e"/><rect x="1106.00" y="345.6" width="1" height="6.9" fill="#3f8c7e"/><rect x="1104.60" y="286.2" width="3.6" height="59.6" fill="#089981"/>
<rect x="1111.00" y="246.6" width="1" height="41.5" fill="#bb5560"/><rect x="1111.00" y="289.4" width="1" height="24.1" fill="#bb5560"/><rect x="1109.60" y="287.9" width="3.6" height="1.7" fill="#f23645"/>
<rect x="1114.60" y="288.9" width="3.6" height="25.8" fill="#f23645"/>
<rect x="1121.00" y="309.3" width="1" height="5.7" fill="#bb5560"/><rect x="1121.00" y="318.6" width="1" height="15.3" fill="#bb5560"/><rect x="1119.60" y="314.8" width="3.6" height="4.0" fill="#f23645"/>
<rect x="1126.00" y="314.8" width="1" height="4.2" fill="#bb5560"/><rect x="1126.00" y="338.0" width="1" height="3.6" fill="#bb5560"/><rect x="1124.60" y="318.8" width="3.6" height="19.4" fill="#f23645"/>
<rect x="1131.00" y="313.2" width="1" height="3.0" fill="#3f8c7e"/><rect x="1131.00" y="337.5" width="1" height="24.2" fill="#3f8c7e"/><rect x="1129.60" y="316.0" width="3.6" height="21.7" fill="#089981"/>
<rect x="1136.00" y="297.1" width="1" height="14.1" fill="#3f8c7e"/><rect x="1136.00" y="315.5" width="1" height="15.2" fill="#3f8c7e"/><rect x="1134.60" y="311.0" width="3.6" height="4.7" fill="#089981"/>
<rect x="1141.00" y="283.4" width="1" height="19.9" fill="#3f8c7e"/><rect x="1141.00" y="311.6" width="1" height="2.2" fill="#3f8c7e"/><rect x="1139.60" y="303.1" width="3.6" height="8.7" fill="#089981"/>
<rect x="1146.00" y="292.9" width="1" height="2.4" fill="#3f8c7e"/><rect x="1146.00" y="303.6" width="1" height="18.3" fill="#3f8c7e"/><rect x="1144.60" y="295.1" width="3.6" height="8.7" fill="#089981"/>
<rect x="1151.00" y="259.0" width="1" height="16.2" fill="#3f8c7e"/><rect x="1151.00" y="295.4" width="1" height="8.4" fill="#3f8c7e"/><rect x="1149.60" y="275.0" width="3.6" height="20.6" fill="#089981"/>
<rect x="1156.00" y="240.3" width="1" height="6.0" fill="#3f8c7e"/><rect x="1156.00" y="275.6" width="1" height="10.3" fill="#3f8c7e"/><rect x="1154.60" y="246.1" width="3.6" height="29.7" fill="#089981"/>
<rect x="1161.00" y="240.3" width="1" height="6.5" fill="#bb5560"/><rect x="1161.00" y="268.0" width="1" height="1.6" fill="#bb5560"/><rect x="1159.60" y="246.6" width="3.6" height="21.6" fill="#f23645"/>
<rect x="1166.00" y="265.0" width="1" height="3.4" fill="#bb5560"/><rect x="1164.60" y="268.2" width="3.6" height="45.3" fill="#f23645"/>
<rect x="1171.00" y="285.1" width="1" height="3.0" fill="#3f8c7e"/><rect x="1171.00" y="313.3" width="1" height="6.5" fill="#3f8c7e"/><rect x="1169.60" y="287.9" width="3.6" height="25.6" fill="#089981"/>
<rect x="1176.00" y="277.0" width="1" height="11.3" fill="#bb5560"/><rect x="1174.60" y="288.1" width="3.6" height="10.0" fill="#f23645"/>
<rect x="1181.00" y="295.1" width="1" height="3.5" fill="#bb5560"/><rect x="1181.00" y="339.7" width="1" height="3.1" fill="#bb5560"/><rect x="1179.60" y="298.4" width="3.6" height="41.5" fill="#f23645"/>
<rect x="1186.00" y="368.6" width="1" height="8.1" fill="#bb5560"/><rect x="1184.60" y="341.1" width="3.6" height="27.7" fill="#f23645"/>
<rect x="1191.00" y="365.4" width="1" height="3.7" fill="#bb5560"/><rect x="1191.00" y="409.7" width="1" height="8.4" fill="#bb5560"/><rect x="1189.60" y="368.9" width="3.6" height="41.0" fill="#f23645"/>
<rect x="1194.60" y="372.0" width="3.6" height="37.9" fill="#089981"/>
<rect x="1201.00" y="350.2" width="1" height="6.8" fill="#3f8c7e"/><rect x="1199.60" y="356.8" width="3.6" height="16.1" fill="#089981"/>
<rect x="1206.00" y="355.8" width="1" height="2.5" fill="#bb5560"/><rect x="1206.00" y="421.4" width="1" height="12.2" fill="#bb5560"/><rect x="1204.60" y="358.1" width="3.6" height="63.5" fill="#f23645"/>
<rect x="1211.00" y="423.4" width="1" height="14.4" fill="#bb5560"/><rect x="1209.60" y="422.8" width="3.6" height="1.0" fill="#f23645"/>
<rect x="1216.00" y="411.1" width="1" height="13.2" fill="#bb5560"/><rect x="1216.00" y="426.8" width="1" height="11.0" fill="#bb5560"/><rect x="1214.60" y="424.1" width="3.6" height="2.9" fill="#f23645"/>
<rect x="1221.00" y="398.9" width="1" height="20.4" fill="#3f8c7e"/><rect x="1221.00" y="424.7" width="1" height="22.3" fill="#3f8c7e"/><rect x="1219.60" y="419.1" width="3.6" height="5.8" fill="#089981"/>
<rect x="1226.00" y="406.9" width="1" height="13.2" fill="#bb5560"/><rect x="1226.00" y="424.7" width="1" height="11.1" fill="#bb5560"/><rect x="1224.60" y="419.9" width="3.6" height="5.0" fill="#f23645"/>
<rect x="1231.00" y="418.6" width="1" height="6.5" fill="#bb5560"/><rect x="1231.00" y="439.0" width="1" height="13.7" fill="#bb5560"/><rect x="1229.60" y="424.9" width="3.6" height="14.3" fill="#f23645"/>
<rect x="1236.00" y="408.1" width="1" height="9.0" fill="#3f8c7e"/><rect x="1236.00" y="439.6" width="1" height="2.4" fill="#3f8c7e"/><rect x="1234.60" y="416.9" width="3.6" height="22.9" fill="#089981"/>
<rect x="1241.00" y="393.8" width="1" height="3.3" fill="#3f8c7e"/><rect x="1241.00" y="416.7" width="1" height="8.1" fill="#3f8c7e"/><rect x="1239.60" y="396.9" width="3.6" height="20.0" fill="#089981"/>
<rect x="1246.00" y="394.8" width="1" height="1.4" fill="#bb5560"/><rect x="1246.00" y="442.9" width="1" height="7.7" fill="#bb5560"/><rect x="1244.60" y="396.0" width="3.6" height="47.1" fill="#f23645"/>
<rect x="1251.00" y="428.1" width="1" height="3.2" fill="#3f8c7e"/><rect x="1251.00" y="443.0" width="1" height="2.5" fill="#3f8c7e"/><rect x="1249.60" y="431.1" width="3.6" height="12.1" fill="#089981"/>
<rect x="1256.00" y="424.9" width="1" height="6.8" fill="#bb5560"/><rect x="1256.00" y="502.5" width="1" height="7.2" fill="#bb5560"/><rect x="1254.60" y="431.5" width="3.6" height="71.2" fill="#f23645"/>
<rect x="1261.00" y="490.7" width="1" height="12.7" fill="#bb5560"/><rect x="1259.60" y="503.2" width="3.6" height="7.9" fill="#f23645"/>
<rect x="1266.00" y="530.6" width="1" height="15.3" fill="#bb5560"/><rect x="1264.60" y="511.1" width="3.6" height="19.7" fill="#f23645"/>
<rect x="1271.00" y="519.1" width="1" height="2.2" fill="#3f8c7e"/><rect x="1271.00" y="530.6" width="1" height="9.4" fill="#3f8c7e"/><rect x="1269.60" y="521.1" width="3.6" height="9.7" fill="#089981"/>
</g>
<rect x="1301.1" y="25.3" width="54.4" height="21.3" rx="3" fill="#fff" stroke="#eff0f2" stroke-width="1"/>
<g>
<path d="M1278.85 606.49 A7.85 7.85 0 1 1 1273.67 601.17" fill="none" stroke="#8e24aa" stroke-width="1.3" stroke-linecap="round"/>
<path d="M1274.0 603.8 L1267.7 608.95 L1271.1 609.3 L1268.2 613.4 L1275.0 607.95 L1271.6 607.6 Z" fill="#9c27b0"/>
<circle cx="1277.0" cy="603.0" r="2.1" fill="#f23645"/>
</g>
<g fill="#131722">
<path d="M10.1 686.8 H20.0 V699.7 H15.1 V691.7 H10.1 Z"/>
<circle cx="23.9" cy="689.3" r="2.5"/>
<path d="M28.6 686.8 H34.2 L28.8 699.7 H23.2 Z"/>
</g>
</svg>
<div id="tx">
<div class="t" style="left:8px;top:8px;font-size:11.3px;color:#121317;font-weight:normal;-webkit-text-stroke:0.2px #121317;transform:translate(0.80px,0.00px) scaleX(0.9358) rotate(0.03deg);">kanguhalubale created with TradingView.com, Aug 25, 2025 06:36 UTC</div>
<div class="t" style="left:15px;top:30px;font-size:9.8px;color:#131722;font-weight:normal;-webkit-text-stroke:0.2px;transform:translate(0.10px,0.70px) scaleX(1.0189) rotate(0.03deg);">Market Cap BTC Dominance, % &middot; 1D &middot; CRYPTOCAP</div>
<div class="t" style="left:256px;top:30px;font-size:9.8px;color:#131722;font-weight:normal;-webkit-text-stroke:0.15px;transform:translate(0.70px,0.70px) scaleX(1.0278) rotate(0.03deg);">O<span style="color:#089981">57.94%</span></div>
<div class="t" style="left:304px;top:30px;font-size:9.8px;color:#131722;font-weight:normal;-webkit-text-stroke:0.15px;transform:translate(0.90px,0.70px) scaleX(0.9979) rotate(0.03deg);">H<span style="color:#089981">58.11%</span></div>
<div class="t" style="left:351px;top:30px;font-size:9.8px;color:#131722;font-weight:normal;-webkit-text-stroke:0.15px;transform:translate(0.10px,0.70px) scaleX(1.0209) rotate(0.03deg);">L<span style="color:#089981">57.77%</span></div>
<div class="t" style="left:396px;top:30px;font-size:9.8px;color:#131722;font-weight:normal;-webkit-text-stroke:0.15px;transform:translate(0.90px,0.70px) scaleX(1.0417) rotate(0.03deg);">C<span style="color:#089981">58.07%</span></div>
<div class="t" style="left:445px;top:30px;font-size:9.8px;color:#131722;font-weight:normal;-webkit-text-stroke:0.15px;transform:translate(0.40px,0.70px) scaleX(1.0584) rotate(0.03deg);"><span style="color:#089981">+0.14 (+0.25%)</span></div>
<div class="t" style="left:1308px;top:30px;font-size:10.5px;color:#131722;font-weight:normal;-webkit-text-stroke:0.25px #131722;transform:translate(0.80px,0.70px) scaleX(0.8985) rotate(0.03deg);">%</div>
<div class="t" style="left:1305px;top:584px;font-size:10.1px;color:#131722;font-weight:normal;transform:translate(0.50px,0.00px) scaleX(1.0602) rotate(0.03deg);">57.00%</div>
<div class="t" style="left:1305px;top:553px;font-size:10.1px;color:#131722;font-weight:normal;transform:translate(0.50px,0.00px) scaleX(1.0602) rotate(0.03deg);">57.50%</div>
<div class="t" style="left:1305px;top:491px;font-size:10.1px;color:#131722;font-weight:normal;transform:translate(0.50px,0.00px) scaleX(1.0602) rotate(0.03deg);">58.50%</div>
<div class="t" style="left:1305px;top:460px;font-size:10.1px;color:#131722;font-weight:normal;transform:translate(0.50px,0.00px) scaleX(1.0602) rotate(0.03deg);">59.00%</div>
<div class="t" style="left:1305px;top:429px;font-size:10.1px;color:#131722;font-weight:normal;transform:translate(0.50px,0.00px) scaleX(1.0602) rotate(0.03deg);">59.50%</div>
<div class="t" style="left:1305px;top:398px;font-size:10.1px;color:#131722;font-weight:normal;transform:translate(0.50px,0.00px) scaleX(1.0602) rotate(0.03deg);">60.00%</div>
<div class="t" style="left:1305px;top:367px;font-size:10.1px;color:#131722;font-weight:normal;transform:translate(0.50px,0.00px) scaleX(1.0602) rotate(0.03deg);">60.50%</div>
<div class="t" style="left:1305px;top:336px;font-size:10.1px;color:#131722;font-weight:normal;transform:translate(0.50px,0.00px) scaleX(1.0602) rotate(0.03deg);">61.00%</div>
<div class="t" style="left:1305px;top:305px;font-size:10.1px;color:#131722;font-weight:normal;transform:translate(0.50px,0.00px) scaleX(1.0602) rotate(0.03deg);">61.50%</div>
<div class="t" style="left:1305px;top:274px;font-size:10.1px;color:#131722;font-weight:normal;transform:translate(0.50px,0.00px) scaleX(1.0602) rotate(0.03deg);">62.00%</div>
<div class="t" style="left:1305px;top:242px;font-size:10.1px;color:#131722;font-weight:normal;transform:translate(0.50px,1.00px) scaleX(1.0602) rotate(0.03deg);">62.50%</div>
<div class="t" style="left:1305px;top:211px;font-size:10.1px;color:#131722;font-weight:normal;transform:translate(0.50px,1.00px) scaleX(1.0602) rotate(0.03deg);">63.00%</div>
<div class="t" style="left:1305px;top:180px;font-size:10.1px;color:#131722;font-weight:normal;transform:translate(0.50px,1.00px) scaleX(1.0602) rotate(0.03deg);">63.50%</div>
<div class="t" style="left:1305px;top:149px;font-size:10.1px;color:#131722;font-weight:normal;transform:translate(0.50px,1.00px) scaleX(1.0602) rotate(0.03deg);">64.00%</div>
<div class="t" style="left:1305px;top:118px;font-size:10.1px;color:#131722;font-weight:normal;transform:translate(0.50px,1.00px) scaleX(1.0602) rotate(0.03deg);">64.50%</div>
<div class="t" style="left:1305px;top:87px;font-size:10.1px;color:#131722;font-weight:normal;transform:translate(0.50px,1.00px) scaleX(1.0602) rotate(0.03deg);">65.00%</div>
<div class="t" style="left:1305px;top:56px;font-size:10.1px;color:#131722;font-weight:normal;transform:translate(0.50px,1.00px) scaleX(1.0602) rotate(0.03deg);">65.50%</div>
<div style="position:absolute;left:1298.4px;top:514.4px;width:54.8px;height:25.4px;border-radius:2px;background:#089981;"></div>
<div style="position:absolute;left:1298.4px;top:540.6px;width:48.9px;height:13.5px;border-radius:2px;background:#3f424f;"></div>
<div class="t" style="left:1305px;top:517px;font-size:10.1px;color:#fff;font-weight:normal;transform:translate(0.50px,0.00px) scaleX(1.0602) rotate(0.03deg);">58.07%</div>
<div class="t" style="left:1305px;top:528px;font-size:10.1px;color:#d3ece7;font-weight:normal;transform:translate(0.60px,0.30px) scaleX(1.0686) rotate(0.03deg);">17:23:45</div>
<div class="t" style="left:1305px;top:543px;font-size:10.1px;color:#fff;font-weight:normal;transform:translate(0.50px,0.20px) scaleX(1.0602) rotate(0.03deg);">57.69%</div>
<div class="t" style="left:79px;top:652px;font-size:10px;color:#131722;font-weight:bold;transform:translate(0.20px,0.90px) scaleX(1.1907) rotate(0.03deg);">2025</div>
<div class="t" style="left:238px;top:652px;font-size:10px;color:#131722;font-weight:normal;transform:translate(0.00px,0.90px) scaleX(1.0557) rotate(0.03deg);">Feb</div>
<div class="t" style="left:378px;top:652px;font-size:10px;color:#131722;font-weight:normal;transform:translate(0.10px,0.90px) scaleX(1.0847) rotate(0.03deg);">Mar</div>
<div class="t" style="left:533px;top:652px;font-size:10px;color:#131722;font-weight:normal;transform:translate(0.10px,0.90px) scaleX(1.0984) rotate(0.03deg);">Apr</div>
<div class="t" style="left:681px;top:652px;font-size:10px;color:#131722;font-weight:normal;transform:translate(0.80px,0.90px) scaleX(1.0523) rotate(0.03deg);">May</div>
<div class="t" style="left:838px;top:652px;font-size:10px;color:#131722;font-weight:normal;transform:translate(0.30px,0.90px) scaleX(1.0787) rotate(0.03deg);">Jun</div>
<div class="t" style="left:989px;top:652px;font-size:10px;color:#131722;font-weight:normal;transform:translate(0.20px,0.90px) scaleX(1.1092) rotate(0.03deg);">Jul</div>
<div class="t" style="left:1141px;top:652px;font-size:10px;color:#131722;font-weight:normal;transform:translate(0.80px,0.90px) scaleX(1.0898) rotate(0.03deg);">Aug</div>
<div class="t" style="left:40px;top:685px;font-size:17.5px;color:#131722;font-weight:normal;-webkit-text-stroke:0.75px #131722;transform:translate(0.80px,0.80px) scaleX(1.0403) rotate(0.03deg);">TradingView</div>
</div>
</body></html>
